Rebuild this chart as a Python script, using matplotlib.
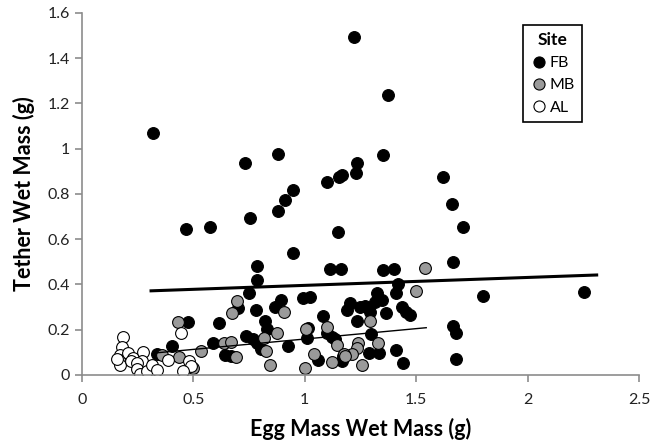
import numpy as np
import matplotlib
matplotlib.use("Agg")
import matplotlib.pyplot as plt
from matplotlib.lines import Line2D

plt.rcParams['font.family'] = ['Lato', 'DejaVu Sans']

# site FB (black)
fb_x = [0.317, 1.221, 1.372, 0.467, 0.574, 0.732, 0.754, 0.881, 0.881, 0.911,
        0.946, 0.946, 0.784, 0.784, 0.751, 1.098, 1.155, 1.165, 1.23, 1.233,
        1.35, 1.622, 1.66, 1.709, 1.15, 1.113, 1.163, 1.35, 1.40, 1.664,
        1.42, 1.41, 1.80, 2.253, 0.993, 1.023, 1.203, 1.188, 1.323, 1.348,
        1.315, 1.27, 1.293, 1.363, 1.25, 1.435, 1.453, 1.472, 1.083, 1.236,
        1.667, 1.68, 1.016, 1.098, 1.12, 1.136, 1.297, 1.008, 1.41, 1.29,
        1.334, 1.061, 1.165, 1.173, 1.44, 1.68, 0.894, 0.866, 0.70, 0.781,
        0.821, 0.616, 0.829, 0.736, 0.769, 0.784, 0.587, 0.926, 0.642, 0.667,
        0.802, 0.477, 0.403, 0.335]
fb_y = [1.069, 1.493, 1.239, 0.645, 0.656, 0.937, 0.693, 0.978, 0.727, 0.775,
        0.819, 0.541, 0.482, 0.42, 0.361, 0.851, 0.875, 0.882, 0.892, 0.937,
        0.973, 0.873, 0.757, 0.656, 0.63, 0.467, 0.467, 0.462, 0.468, 0.498,
        0.404, 0.362, 0.35, 0.369, 0.339, 0.346, 0.316, 0.288, 0.361, 0.333,
        0.324, 0.305, 0.28, 0.274, 0.302, 0.302, 0.28, 0.264, 0.259, 0.238,
        0.216, 0.187, 0.208, 0.184, 0.17, 0.158, 0.183, 0.162, 0.109, 0.099,
        0.099, 0.068, 0.062, 0.082, 0.052, 0.072, 0.332, 0.302, 0.295, 0.288,
        0.24, 0.229, 0.202, 0.173, 0.158, 0.14, 0.14, 0.128, 0.088, 0.084,
        0.114, 0.236, 0.128, 0.092]

# site MB (grey)
mb_x = [0.432, 0.358, 0.437, 0.50, 0.535, 0.694, 0.672, 0.907, 0.874, 0.817,
        0.637, 0.667, 0.691, 0.826, 0.844, 1.005, 1.001, 1.54, 1.497, 1.294,
        1.098, 1.146, 1.24, 1.236, 1.33, 1.21, 1.177, 1.043, 1.12, 1.255,
        1.18]
mb_y = [0.236, 0.088, 0.078, 0.032, 0.108, 0.327, 0.276, 0.28, 0.184, 0.162,
        0.14, 0.147, 0.078, 0.108, 0.044, 0.202, 0.03, 0.475, 0.372, 0.24,
        0.214, 0.133, 0.14, 0.118, 0.14, 0.093, 0.093, 0.092, 0.059, 0.044,
        0.084]

# site AL (white)
al_x = [0.183, 0.178, 0.17, 0.165, 0.17, 0.208, 0.228, 0.22, 0.275, 0.27,
        0.248, 0.245, 0.26, 0.293, 0.313, 0.335, 0.443, 0.387, 0.482, 0.488,
        0.452, 0.155]
al_y = [0.167, 0.125, 0.09, 0.065, 0.045, 0.095, 0.075, 0.06, 0.103, 0.06,
        0.052, 0.025, 0.004, 0.019, 0.044, 0.022, 0.185, 0.067, 0.063, 0.04,
        0.016, 0.072]

# trend line end points
fb_trend_x = [0.31, 2.31]
fb_trend_y = [0.372, 0.442]
mb_trend_x = [0.335, 1.545]
mb_trend_y = [0.098, 0.209]

fig = plt.figure(figsize=(6.65, 4.42), dpi=100)
ax = fig.add_axes([0.1233, 0.1516, 0.8376, 0.819])

ms = 72
ax.scatter(fb_x, fb_y, s=ms, c='black', edgecolors='black', linewidths=0.8, zorder=2)
ax.scatter(mb_x, mb_y, s=ms, c='#9a9a9a', edgecolors='black', linewidths=0.8, zorder=2)
ax.scatter(al_x, al_y, s=ms, c='white', edgecolors='black', linewidths=0.8, zorder=2)

ax.plot(fb_trend_x, fb_trend_y, color='black', lw=2.2, zorder=3)
ax.plot(mb_trend_x, mb_trend_y, color='black', lw=1.0, zorder=3)

ax.set_xlim(0, 2.5)
ax.set_ylim(0, 1.6)
ax.set_xticks(np.arange(0, 2.51, 0.5))
ax.set_xticklabels(['0', '0.5', '1', '1.5', '2', '2.5'])
ax.set_yticks(np.arange(0, 1.61, 0.2))
ax.set_yticklabels(['0', '0.2', '0.4', '0.6', '0.8', '1', '1.2', '1.4', '1.6'])

for s in ['top', 'right']:
    ax.spines[s].set_visible(False)
for s in ['left', 'bottom']:
    ax.spines[s].set_color('#8c8c8c')
    ax.spines[s].set_linewidth(1.2)
ax.tick_params(axis='both', colors='#8c8c8c', length=5, width=1.2,
               labelsize=11.5, labelcolor='#222222')
ax.tick_params(axis='x', pad=8)

ax.set_xlabel('Egg Mass Wet Mass (g)', fontsize=15.5, fontweight='bold', labelpad=8)
ax.set_ylabel('Tether Wet Mass (g)', fontsize=15.5, fontweight='bold', labelpad=9)

handles = [
    Line2D([], [], ls='', marker='o', ms=8, mfc='black', mec='black', mew=0.8),
    Line2D([], [], ls='', marker='o', ms=8, mfc='#9a9a9a', mec='black', mew=0.8),
    Line2D([], [], ls='', marker='o', ms=8, mfc='white', mec='black', mew=0.8),
]
leg = ax.legend(handles, ['FB', 'MB', 'AL'], title='Site', loc='upper left',
                bbox_to_anchor=(0.792, 0.967), fontsize=11.5, title_fontsize=12.5,
                fancybox=False, edgecolor='black', framealpha=1,
                handletextpad=0.1, handlelength=1.1, borderpad=0.45,
                labelspacing=0.5, borderaxespad=0)
leg.get_title().set_fontweight('bold')
leg.get_frame().set_linewidth(1.2)

fig.savefig('out.png', dpi=100)
